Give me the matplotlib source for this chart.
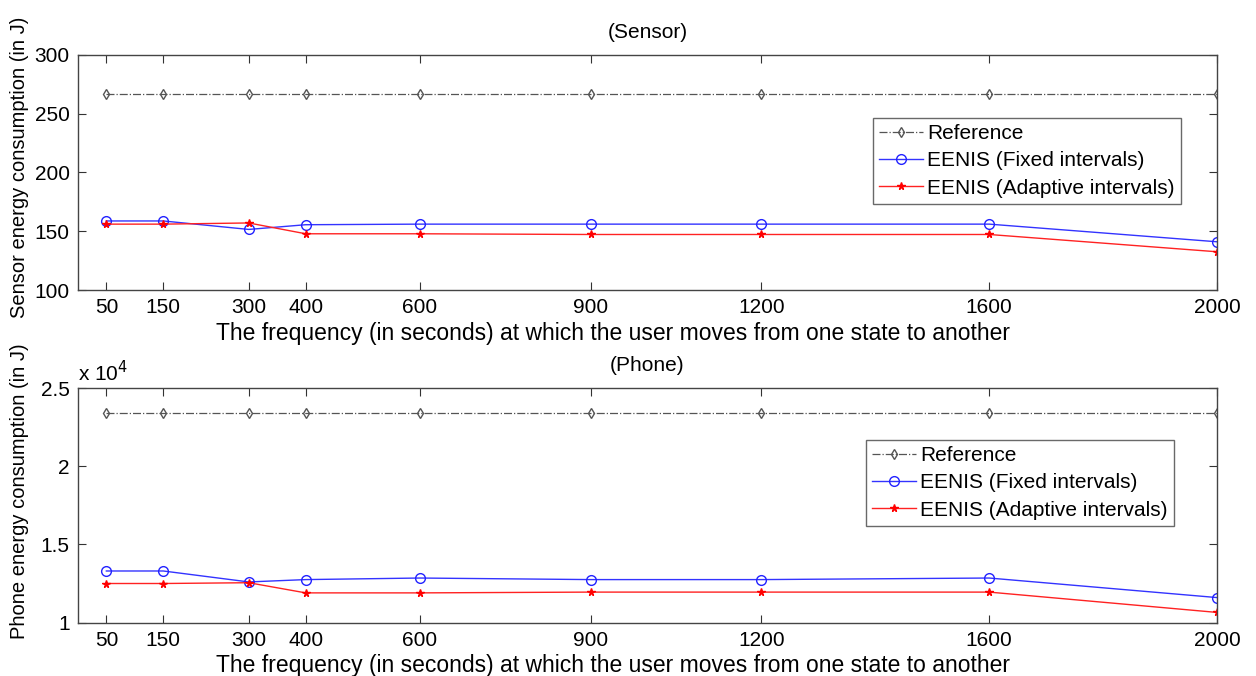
import numpy as np
import matplotlib.pyplot as plt
from matplotlib.ticker import FuncFormatter

plt.rcParams['font.family'] = ['Liberation Sans', 'DejaVu Sans']

# x values (seconds)
freq = [50, 150, 300, 400, 600, 900, 1200, 1600, 2000]

# sensor energy (J)
sensor_ref = [267, 267, 267, 267, 267, 267, 267, 267, 267]
sensor_fixed = [158.7, 158.7, 151.5, 155.5, 156, 156, 156, 156, 141]
sensor_adapt = [156, 156, 157, 147.8, 147.8, 147.2, 147.2, 147.2, 132.5]

# phone energy (J)
phone_ref = [23400] * 9
phone_fixed = [13300, 13300, 12600, 12750, 12850, 12750, 12750, 12850, 11600]
phone_adapt = [12500, 12500, 12550, 11900, 11900, 11950, 11950, 11950, 10650]

labels = ['Reference', 'EENIS (Fixed intervals)', 'EENIS (Adaptive intervals)']
xlab = 'The frequency (in seconds) at which the user moves from one state to another'

fig = plt.figure(figsize=(12.56, 6.76), dpi=100)
ax1 = fig.add_axes([0.062, 0.571, 0.907, 0.348])
ax2 = fig.add_axes([0.062, 0.079, 0.907, 0.347])

def draw(ax, ref, fixed, adapt):
    ax.plot(freq, ref, color='#555555', ls='-.', lw=0.9, marker='d', ms=5.5,
            mfc='none', mec='#555555', label=labels[0])
    ax.plot(freq, fixed, color='#3333ff', lw=1.0, marker='o', ms=7,
            mfc='none', mec='#2222ff', label=labels[1])
    ax.plot(freq, adapt, color='#ff2222', lw=1.0, marker='*', ms=5.5,
            mfc='#ff0000', mec='#ff0000', label=labels[2])
    ax.set_xlim(0, 2000)
    ax.set_xticks(freq)
    ax.tick_params(direction='in', length=6, top=True, right=True,
                   labelsize=15, color='#333333', pad=6)
    for s in ax.spines.values():
        s.set_color('#444444')
        s.set_linewidth(1.0)
    ax.set_xlabel(xlab, fontsize=16.5)
    ax.xaxis.set_label_coords(0.47, -0.135)

def legend(ax, x, y):
    ax.legend(loc='upper left', bbox_to_anchor=(x, y), fontsize=15,
              frameon=True, fancybox=False, edgecolor='#444444', borderpad=0.3,
              labelspacing=0.4, handlelength=2.1, handletextpad=0.2,
              borderaxespad=0)

draw(ax1, sensor_ref, sensor_fixed, sensor_adapt)
ax1.set_ylim(100, 300)
ax1.set_yticks([100, 150, 200, 250, 300])
ax1.set_ylabel('Sensor energy consumption (in J)', fontsize=14.5)
ax1.yaxis.set_label_coords(-0.043, 0.52)
ax1.set_title('(Sensor)', fontsize=15, pad=12)
legend(ax1, 0.698, 0.732)

draw(ax2, phone_ref, phone_fixed, phone_adapt)
ax2.set_ylim(10000, 25000)
ax2.set_yticks([10000, 15000, 20000, 25000])
ax2.yaxis.set_major_formatter(FuncFormatter(lambda v, p: '%g' % (v / 1e4)))
ax2.set_ylabel('Phone energy consumption (in J)', fontsize=14.5)
ax2.yaxis.set_label_coords(-0.043, 0.56)
ax2.set_title('(Phone)', fontsize=15, pad=12)
ax2.text(0.0, 1.01, 'x 10$^4$', transform=ax2.transAxes, fontsize=15,
         ha='left', va='bottom')
legend(ax2, 0.692, 0.779)

fig.savefig('out.png', dpi=100)
